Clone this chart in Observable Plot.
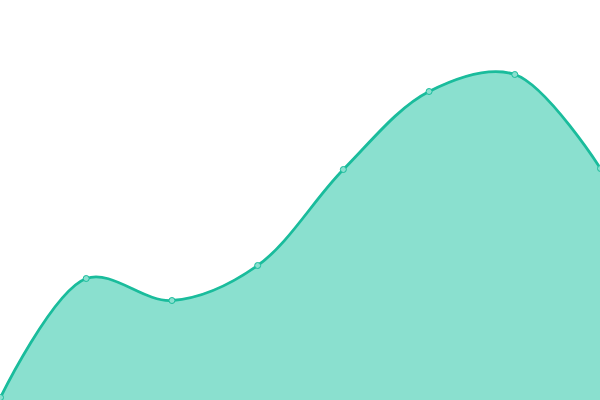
<!DOCTYPE html>
<html><head><meta charset="utf-8">
<script src="https://cdn.jsdelivr.net/npm/d3@7"></script>
<script src="https://cdn.jsdelivr.net/npm/@observablehq/plot@0.6"></script>
<style>body{margin:0;background:#fff}</style>
</head><body><div id="chart"></div>
<script>
const categories = [0, 1, 2, 3, 4, 5, 6, 7];
const values = [3, 122, 100, 135, 231, 309, 326, 232];
const data = categories.map((c, i) => ({x: c, y: values[i]}));
const chart = Plot.plot({
  width: 600, height: 400,
  margin: 0,
  x: {domain: [0, 7], range: [0, 600], axis: null},
  y: {domain: [0, 400], range: [400, 0], axis: null},
  marks: [
    Plot.areaY(data, {x: "x", y: "y", y1: 0, curve: "catmull-rom", fill: "#8ae0cf"}),
    Plot.lineY(data, {x: "x", y: "y", curve: "catmull-rom", stroke: "#1abc9c", strokeWidth: 2.8}),
    Plot.dot(data, {x: "x", y: "y", r: 3, fill: "#8ae0cf", stroke: "#1abc9c", strokeWidth: 1})
  ]
});
document.getElementById("chart").append(chart);
</script></body></html>
